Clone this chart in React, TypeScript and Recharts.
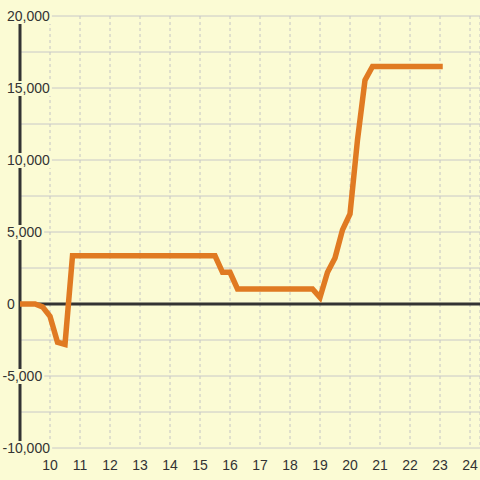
import { LineChart, Line, XAxis, YAxis, CartesianGrid, ReferenceLine } from "recharts";

// hours (x) and values (y) at 15 minute steps
const hours = [
    9, 9.25, 9.5, 9.75, 10, 10.25, 10.5, 10.75,
    11, 11.25, 11.5, 11.75, 12, 12.25, 12.5, 12.75,
    13, 13.25, 13.5, 13.75, 14, 14.25, 14.5, 14.75,
    15, 15.25, 15.5, 15.75, 16, 16.25, 16.5, 16.75,
    17, 17.25, 17.5, 17.75, 18, 18.25, 18.5, 18.75,
    19, 19.25, 19.5, 19.75, 20, 20.25, 20.5, 20.75,
    21, 21.25, 21.5, 21.75, 22, 22.25, 22.5, 22.75, 23,
];
const values = [
    0, 0, 0, -200, -850, -2650, -2800, 3350,
    3350, 3350, 3350, 3350, 3350, 3350, 3350, 3350,
    3350, 3350, 3350, 3350, 3350, 3350, 3350, 3350,
    3350, 3350, 3350, 2200, 2200, 1050, 1050, 1050,
    1050, 1050, 1050, 1050, 1050, 1050, 1050, 1050,
    450, 2200, 3200, 5150, 6250, 11400, 15550, 16500,
    16500, 16500, 16500, 16500, 16500, 16500, 16500, 16500, 16500,
];

const xTicks = [10, 11, 12, 13, 14, 15, 16, 17, 18, 19, 20, 21, 22, 23, 24];
const yTicks = [-10000, -7500, -5000, -2500, 0, 2500, 5000, 7500, 10000, 12500, 15000, 17500, 20000];

const BG = "#fbfbd4";
const FONT = "'Liberation Sans', Arial, sans-serif";

const data = hours.map((h, i) => ({ h, v: values[i] }));

// rough text width for 14px Arial-like digits
const textWidth = (s: string) =>
    s.split("").reduce((w, c) => w + (c === "," ? 3.9 : c === "-" ? 4.7 : 7.8), 0);

function YTick(props: any) {
    const { y, payload } = props;
    const v = payload.value as number;
    if (v % 5000 !== 0) return <g />;
    const label = v.toLocaleString("en-US");
    const w = textWidth(label);
    const x0 = v < 0 ? 2.5 : 7;
    return (
        <g>
            <rect x={x0 - 1} y={y - 7} width={w + 3} height={15} fill={BG} />
            <text x={x0} y={y} dy={5} textAnchor="start" fontSize={14} fill="#333" fontFamily={FONT}>
                {label}
            </text>
        </g>
    );
}

export default function App() {
    return (
        <div style={{ position: "fixed", left: 0, top: 0, width: 480, height: 480, background: BG }}>
            <LineChart
                width={480}
                height={480}
                data={data}
                margin={{ top: 16, right: 0, bottom: 2, left: 0 }}
            >
                <CartesianGrid
                    horizontal={false}
                    stroke="#c4c4c4"
                    strokeDasharray="3 3"
                />
                <CartesianGrid vertical={false} stroke="#c8c8c8" />
                <ReferenceLine x={9} stroke="#333" strokeWidth={3} />
                <ReferenceLine y={0} stroke="#333" strokeWidth={3} />
                <XAxis
                    dataKey="h"
                    type="number"
                    domain={[9, 9 + 460 / 30]}
                    ticks={xTicks}
                    allowDataOverflow
                    height={30}
                    axisLine={false}
                    tickLine={false}
                    tickMargin={6}
                    tick={{ fontSize: 14, fill: "#333", fontFamily: FONT }}
                />
                <YAxis
                    type="number"
                    domain={[-10000, 20000]}
                    ticks={yTicks}
                    width={20}
                    tickLine={false}
                    axisLine={false}
                    tick={(p: any) => <YTick {...p} />}
                    interval={0}
                />
                <Line
                    type="linear"
                    dataKey="v"
                    stroke="#e07a22"
                    strokeWidth={5.5}
                    strokeLinecap="square"
                    strokeLinejoin="miter"
                    dot={false}
                    isAnimationActive={false}
                />
            </LineChart>
        </div>
    );
}
